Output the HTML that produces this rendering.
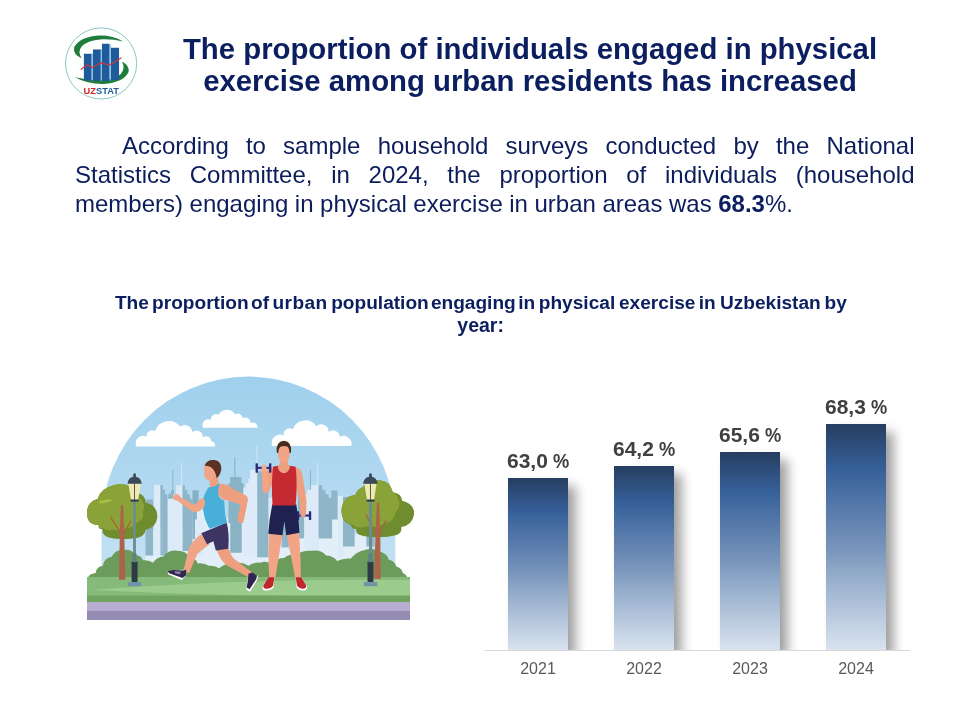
<!DOCTYPE html>
<html>
<head>
<meta charset="utf-8">
<title>Slide</title>
<style>
html,body{margin:0;padding:0;background:#fff;}
body{width:960px;height:720px;position:relative;overflow:hidden;font-family:"Liberation Sans",sans-serif;}
.abs{position:absolute;}
#title,#body,#ctitle,.dl,.xl{will-change:transform;}
#title{left:130px;top:33px;width:800px;text-align:center;font-weight:bold;font-size:29.33px;line-height:32.2px;color:#0b1e5f;white-space:nowrap;}
#body{left:75px;top:131px;width:839.5px;font-size:24px;line-height:29px;color:#0c1d5c;}
#body b{color:#0b1e5f;}
#body .jl{text-align:justify;text-align-last:justify;white-space:nowrap;}
#ctitle{left:0;top:291px;width:960px;height:46px;font-weight:bold;font-size:19.1px;line-height:23px;color:#0b1e5f;white-space:nowrap;}
#ctitle span{position:absolute;top:0;}
.bar{position:absolute;width:60px;box-shadow:7.5px 8px 11px rgba(0,0,0,.39);background:linear-gradient(to bottom,#263e60 0%,#36609a 20%,#7a96bc 56%,#8fa8c8 65%,#d9e3ef 100%);}
.dl{position:absolute;width:120px;text-align:center;font-weight:bold;font-size:21px;line-height:22px;color:#404040;white-space:nowrap;word-spacing:-1px;}
.dl i{font-style:normal;display:inline-block;transform:scaleX(.87);transform-origin:0 50%;margin-right:-2.4px;}
.xl{position:absolute;width:120px;text-align:center;font-size:16px;line-height:18px;color:#595959;top:660px;}
#axis{left:484px;top:650px;width:426px;height:1px;background:#d9d9d9;}
</style>
</head>
<body>
<div id="title" class="abs">The proportion of individuals engaged in physical<br>exercise among urban residents has increased</div>
<div id="body" class="abs"><div class="jl" style="text-indent:47px">According to sample household surveys conducted by the National</div><div class="jl">Statistics Committee, in 2024, the proportion of individuals (household</div><div style="word-spacing:-0.12px;white-space:nowrap">members) engaging in physical exercise in urban areas was <b>68.3</b>%.</div></div>
<div id="ctitle" class="abs"><span style="left:114.9px">The</span><span style="left:152.1px">proportion</span><span style="left:251.1px">of</span><span style="left:272.5px;letter-spacing:0.4px">urban</span><span style="left:331.2px">population</span><span style="left:430.9px">engaging</span><span style="left:518.3px">in</span><span style="left:538.8px">physical</span><span style="left:619.0px">exercise</span><span style="left:698.8px">in</span><span style="left:719.9px">Uzbekistan</span><span style="left:824.5px">by</span><span style="left:457.3px;top:22.6px;font-size:19.5px">year:</span></div>

<!-- chart -->
<div class="abs" style="left:484px;top:380px;width:450px;height:270px;overflow:hidden;">
<div class="bar" style="left:24px;top:98px;height:172px;"></div>
<div class="bar" style="left:130px;top:86px;height:184px;"></div>
<div class="bar" style="left:236px;top:72px;height:198px;"></div>
<div class="bar" style="left:342px;top:44px;height:226px;"></div>
</div>
<div id="axis" class="abs"></div>
<div class="dl" style="left:477.5px;top:449.7px;">63,0 <i>%</i></div>
<div class="dl" style="left:583.5px;top:437.7px;">64,2 <i>%</i></div>
<div class="dl" style="left:689.5px;top:423.7px;">65,6 <i>%</i></div>
<div class="dl" style="left:795.5px;top:395.7px;">68,3 <i>%</i></div>
<div class="xl" style="left:478px;">2021</div>
<div class="xl" style="left:584px;">2022</div>
<div class="xl" style="left:690px;">2023</div>
<div class="xl" style="left:796px;">2024</div>

<svg class="abs" style="left:40px;top:10px;" width="120" height="100" viewBox="0 0 864 720">
<circle cx="440" cy="385" r="256" fill="#fdfefe" stroke="#5aaeaa" stroke-width="5"/>
<path d="M598 226 Q520 180 420 184 Q290 192 246 268 Q236 320 300 348 Q268 300 300 262 Q350 214 450 210 Q530 208 598 226Z" fill="#1f7d3b"/>
<path d="M252 484 Q340 534 460 532 Q600 522 638 446 Q646 400 590 370 Q618 420 580 462 Q530 502 430 504 Q330 502 252 484Z" fill="#1f7d3b"/>
<g fill="#1d5b9c">
<rect x="316" y="315" width="56" height="192"/>
<rect x="381" y="284" width="57" height="226"/>
<rect x="446" y="243" width="55" height="268"/>
<rect x="511" y="272" width="58" height="232"/>
</g>
<g fill="#7db5dd"><rect x="372" y="315" width="8" height="192"/><rect x="438" y="284" width="7" height="226"/><rect x="501" y="250" width="9" height="258"/></g>
<path d="M296 426 L340 394 L376 416 L440 380 L500 396 L562 358 L584 346" fill="none" stroke="#d4343c" stroke-width="9" stroke-linejoin="round" stroke-linecap="round"/>
<text x="314" y="606" font-family="Liberation Sans, sans-serif" font-weight="bold" font-size="62" textLength="254" lengthAdjust="spacingAndGlyphs"><tspan fill="#d3242b">UZ</tspan><tspan fill="#1d5b9c">STAT</tspan></text>
</svg>

<svg class="abs" style="left:60px;top:360px;" width="380" height="280" viewBox="60 360 380 280">
<defs>
<linearGradient id="sky" x1="0" y1="376" x2="0" y2="580" gradientUnits="userSpaceOnUse">
<stop offset="0" stop-color="#9fd0ec"/><stop offset="0.5" stop-color="#b0d8f0"/><stop offset="1" stop-color="#c6e2f4"/>
</linearGradient>
<clipPath id="skyclip"><path d="M100.8 580 L100.8 524.8 A148.2 148.2 0 0 1 397.2 524.8 L397.2 580 Z"/></clipPath>
</defs>
<!-- sky -->
<path d="M101.5 580 L101.5 524.8 A146.9 148.2 0 0 1 395.3 524.8 L395.3 580 Z" fill="url(#sky)"/>
<!-- clouds: scene coords -->
<g fill="#fff">
<g transform="translate(120,400) scale(0.15625)">
<path d="M102 298 L102 290 A48 48 0 0 1 170 235 A36 36 0 0 1 225 200 A92 92 0 0 1 385 170 A48 48 0 0 1 462 205 A42 42 0 0 1 530 240 A34 34 0 0 1 585 265 A24 24 0 0 1 607 298Z"/>
<path d="M530 178 L530 170 A36 36 0 0 1 582 128 A32 32 0 0 1 630 95 A62 62 0 0 1 738 92 A30 30 0 0 1 785 118 A32 32 0 0 1 835 148 A30 30 0 0 1 880 178Z"/>
</g>
<g transform="translate(240,400) scale(0.15625)">
<path d="M205 295 L205 288 A52 52 0 0 1 280 228 A38 38 0 0 1 338 188 A84 84 0 0 1 488 168 A48 48 0 0 1 568 205 A42 42 0 0 1 638 235 A52 52 0 0 1 712 295Z"/>
</g>
</g>
<!-- pale backdrop: scene coords scale 2.526 -->
<g transform="translate(60,360) scale(0.395833)" fill="#e2eff9">
<path d="M215 560 V430 h40 v-40 h50 v30 h40 v-60 h60 v40 h40 v-70 h50 v60 h40 v-40 h60 v50 h40 v-40 h60 v40 h50 v40 h40 v140z"/>
</g>
<!-- skyline left: zoom [130,440,260,570] scale 5.538 -->
<g transform="translate(130,440) scale(0.180556)">
  <g fill="#8fb6c8">
    <rect x="85" y="330" width="43" height="310"/>
    <rect x="168" y="250" width="14" height="390"/><rect x="182" y="275" width="12" height="365"/><rect x="194" y="300" width="12" height="340"/>
    <rect x="234" y="165" width="6" height="130"/>
    <path d="M200 640V320h12v-22h14v-20h18v362z"/>
    <path d="M290 250h14v25h14v25h14v25h14v290h-56z"/>
    <path d="M346 278h34v110h-10v160h-24z" fill="#86b0c4"/>
    <rect x="577" y="95" width="7" height="120"/>
    <path d="M545 240h10v-35h62v35h12v220h-10v165h-64v-165h-10z" fill="#88b3c5"/>
    <rect x="705" y="175" width="40" height="470"/>
  </g>
  <g fill="#dcebf7">
    <rect x="133" y="248" width="34" height="395"/>
    <rect x="283" y="125" width="4" height="130"/>
    <path d="M208 325h32v-25h16v-50h34v395h-82z"/>
    <rect x="360" y="440" width="50" height="205"/>
    <path d="M628 265h14v-25h14v-25h14v-25h14v-25h22v480h-78z"/>
  </g>
</g>
<!-- skyline right: zoom [250,440,400,570] scale 5.54 -->
<g transform="translate(250,440) scale(0.180505)">
  <g fill="#dcebf7">
    <rect x="36" y="35" width="4" height="150"/>
    <rect x="0" y="165" width="42" height="480"/>
    <rect x="373" y="125" width="4" height="130"/>
    <path d="M300 300h16v-25h16v-25h50v395h-82z"/>
    <rect x="485" y="310" width="32" height="335"/>
    <rect x="100" y="320" width="30" height="325"/>
  </g>
  <g fill="#8fb6c8">
    <rect x="40" y="175" width="62" height="475"/>
    <rect x="332" y="165" width="6" height="110"/>
    <rect x="175" y="380" width="40" height="215"/>
    <rect x="265" y="290" width="35" height="255"/>
    <path d="M380 250h20v25h18v25h18v20h14v-40h35v160h-30v105h-75z"/>
    <rect x="515" y="315" width="65" height="275"/>
    <rect x="645" y="400" width="45" height="190"/>
  </g>
</g>

<g transform="translate(60,360) scale(0.395833)" fill="#6b9c5c">
<path d="M70 552 Q72 540 90 538 Q92 522 108 520 Q112 500 130 498 Q140 478 160 480 Q180 476 190 492 Q205 494 210 506 Q225 504 235 512 Q245 498 262 496 Q275 478 298 482 Q318 482 326 498 Q342 500 348 514 Q365 512 376 520 Q392 518 402 526 Q420 512 440 514 Q460 508 476 520 Q490 510 506 512 Q520 506 534 514 Q548 500 566 500 Q580 490 598 492 Q612 480 636 482 Q660 478 672 494 Q690 494 700 508 Q716 500 734 502 Q748 484 770 480 Q790 474 806 484 Q826 488 830 504 Q846 508 850 522 Q864 526 866 538 Q876 542 878 552 Z"/>
</g>

<!-- ground -->
<rect x="87" y="577" width="323" height="26" fill="#86ba7a"/>
<path d="M92 590 Q250 578 410 580 L410 596 Q250 598 92 590Z" fill="#9ccc8d"/>
<rect x="87" y="595.5" width="323" height="7" fill="#6fa35f"/>
<rect x="87" y="602" width="323" height="9" fill="#b8acd1"/>
<rect x="87" y="611" width="323" height="9" fill="#958cb3"/>
<!-- left tree+lamp: zoom [80,465,180,600] scale 5.33 -->
<g transform="translate(80,465) scale(0.187617)">
  <!-- foliage dark -->
  <path d="M120 340 Q95 345 100 320 Q40 320 38 265 Q30 200 95 180 Q110 120 200 102 Q265 95 300 150 Q345 150 350 200 Q415 215 412 280 Q405 335 350 345 Q345 390 280 392 Q200 400 150 385 Q115 375 120 340Z" fill="#6f8c2e"/>
  <!-- foliage light -->
  <path d="M120 335 Q95 340 100 318 Q40 318 38 265 Q30 200 95 180 Q110 120 200 102 Q262 96 290 140 Q300 170 330 185 Q350 215 335 250 Q345 290 305 305 Q290 335 250 335 Q215 360 180 345 Q150 355 120 335Z" fill="#8aa338"/>
  <path d="M100 195 Q140 178 180 188 Q150 200 105 205Z" fill="#a9bf41"/>
  <!-- trunk -->
  <path d="M164 280 L222 368 M268 300 L232 374" stroke="#a0683f" stroke-width="7" stroke-linecap="round" fill="none"/><path d="M218 215 L230 215 L236 372 L242 612 L208 612 L212 372Z" fill="#ad624a"/>
  <!-- lamp -->
  <rect x="283" y="190" width="15" height="330" fill="#6b8d90"/>
  <rect x="275" y="515" width="32" height="108" rx="3" fill="#2f3a47"/>
  <rect x="280" y="470" width="21" height="48" fill="#5f8385"/>
  <rect x="255" y="624" width="72" height="22" fill="#6f94aa"/>
  <path d="M258 100 L325 100 L310 186 L272 186Z" fill="#eeeab2"/>
  <rect x="288" y="100" width="5" height="88" fill="#4a4f4f"/>
  <rect x="270" y="184" width="43" height="11" fill="#2f3a47"/>
  <path d="M253 100 Q256 68 284 62 L284 48 Q291 40 298 48 L298 62 Q326 68 329 100Z" fill="#3b4a58"/>
</g>
<!-- right tree+lamp: zoom [330,465,430,600] scale 5.33 -->
<g transform="translate(330,465) scale(0.187617)">
  <path d="M140 340 Q130 375 200 382 Q290 390 350 375 Q385 365 380 330 Q440 320 448 262 Q450 205 385 190 Q380 150 335 145 Q320 85 270 82 Q210 80 170 120 Q140 135 135 160 Q70 165 62 235 Q55 300 110 320 Q120 345 140 340Z" fill="#6f8c2e"/>
  <path d="M135 160 Q70 165 62 235 Q55 300 120 318 Q150 345 200 325 Q250 340 290 310 Q345 300 350 250 Q385 215 360 170 Q345 145 335 145 Q320 85 270 82 Q210 80 170 120 Q140 135 135 160Z" fill="#8aa338"/>
  <path d="M192 266 L244 366 M300 292 L262 372" stroke="#a0683f" stroke-width="7" stroke-linecap="round" fill="none"/><path d="M262 200 L250 200 L242 372 L236 607 L270 607 L268 372Z" fill="#ad624a"/>
  <rect x="208" y="190" width="16" height="330" fill="#6b8d90"/>
  <rect x="200" y="515" width="32" height="108" rx="3" fill="#2f3a47"/>
  <rect x="205" y="470" width="22" height="48" fill="#5f8385"/>
  <rect x="180" y="624" width="72" height="22" fill="#6f94aa"/>
  <path d="M183 100 L248 100 L235 186 L197 186Z" fill="#eeeab2"/>
  <rect x="213" y="100" width="5" height="88" fill="#4a4f4f"/>
  <rect x="195" y="184" width="43" height="11" fill="#2f3a47"/>
  <path d="M176 100 Q180 68 208 62 L208 48 Q216 40 223 48 L223 62 Q250 68 254 100Z" fill="#3b4a58"/>
</g>

<!-- runner: zoom [160,450,260,600] scale 4.8 -->
<g transform="translate(160,450) scale(0.208333)">
  <!-- back arm (right) -->
  <path d="M268 170 Q316 152 348 186 L414 220 Q426 232 420 250 L404 330 Q400 352 385 350 Q368 344 374 322 L386 262 L318 240 Q280 240 268 170Z" fill="#ee9f80"/>
  <!-- back leg -->
  <path d="M268 470 L326 466 Q338 500 352 520 L446 590 L426 612 L318 552 Q290 530 268 470Z" fill="#ee9f80"/>
  <!-- front leg -->
  <path d="M196 404 L238 452 Q200 480 178 500 L140 590 L112 582 L136 480 Q150 440 196 404Z" fill="#f2a486"/>
  <!-- shoes -->
  <path d="M36 584 L64 578 L126 574 L122 606 L104 624 L40 598Z" fill="#fff"/>
  <path d="M36 582 L64 576 L112 578 L126 572 L124 602 L108 614 L44 592Z" fill="#30264f"/>
  <path d="M70 582 L100 584 L96 596 L72 592Z" fill="#8f86ad"/>
  <path d="M424 596 L444 590 L470 604 L468 622 L432 680 L414 668 L420 630Z" fill="#fff"/>
  <path d="M424 594 L444 588 L466 602 L462 620 L430 668 L416 660 L422 628Z" fill="#30264f"/>
  <!-- shorts -->
  <path d="M198 400 L320 348 Q334 400 328 474 L268 482 L256 438 L226 452Z" fill="#3d3463"/>
  <!-- torso -->
  <path d="M232 180 Q262 176 288 160 Q276 184 280 212 Q286 238 308 242 L313 312 Q320 335 322 350 L238 378 Q216 340 212 312 Q202 270 204 248 Q208 220 232 180Z" fill="#49aed8"/>
  <!-- neck & head -->
  <path d="M238 128 L276 120 L282 160 Q262 180 240 178Z" fill="#ee9f80"/>
  <path d="M212 92 Q210 64 238 62 Q262 62 268 90 L266 120 Q260 142 238 146 Q222 146 218 130 L210 124 L214 112Z" fill="#f2a486"/>
  <path d="M214 76 Q224 44 262 48 Q298 54 294 96 Q288 124 272 134 Q268 110 258 96 Q240 74 214 76Z" fill="#5a3122"/>
  <!-- front arm -->
  <path d="M206 232 Q222 240 214 268 Q204 292 172 298 Q160 300 150 292 L84 244 Q60 242 62 222 Q72 206 90 214 L96 224 L160 262 Q180 258 190 236Z" fill="#f2a486"/>
</g>
<!-- lifter: zoom [240,430,340,600] scale 4.24 -->
<g transform="translate(240,430) scale(0.235849)">
  <!-- legs -->
  <path d="M124 436 L180 442 L150 628 L124 628 Q118 540 124 436Z" fill="#f2a486"/>
  <path d="M198 442 L250 434 Q258 540 258 628 L234 628 Z" fill="#f2a486"/>
  <!-- shoes -->
  <path d="M118 626 L146 626 L142 668 Q130 684 104 680 Q92 676 96 664Z" fill="#fff"/>
  <path d="M120 624 L146 624 L140 660 Q128 676 106 672 Q96 668 100 658Z" fill="#bf272e"/>
  <path d="M236 626 L262 626 L284 664 Q286 678 274 680 Q252 684 240 668Z" fill="#fff"/>
  <path d="M236 624 L260 624 L280 658 Q282 670 272 672 Q254 676 242 660Z" fill="#bf272e"/>
  <!-- dumbbell low -->
  <g fill="#2e2a7a"><rect x="241" y="344" width="10" height="38" rx="2"/><rect x="292" y="344" width="10" height="38" rx="2"/><rect x="248" y="358" width="48" height="9"/></g>
  <!-- right arm (image right) -->
  <path d="M236 158 Q262 160 266 200 L282 300 L280 352 Q278 372 264 370 Q254 366 256 350 L252 300 L236 240Z" fill="#ee9f80"/>
  <!-- left arm raised -->
  <path d="M142 158 Q118 158 106 190 Q92 230 96 256 Q104 272 122 264 L150 200Z" fill="#ee9f80"/>
  <path d="M96 256 L91 170 Q94 150 104 150 Q114 152 114 172 L126 258 Q112 272 96 256Z" fill="#f2a486"/>
  <!-- dumbbell top -->
  <g fill="#2e2a7a"><rect x="66" y="141" width="10" height="40" rx="2"/><rect x="123" y="141" width="10" height="40" rx="2"/><rect x="74" y="156" width="54" height="9"/></g>
  <path d="M91 172 Q90 146 102 145 Q114 146 113 172 Z" fill="#f4ab8c"/>
  <!-- shorts -->
  <path d="M138 314 L238 314 Q250 380 252 436 L196 446 L188 386 L180 446 L120 440 Q124 370 138 314Z" fill="#1f2150"/>
  <!-- tank -->
  <path d="M140 156 L160 152 Q164 180 186 182 Q208 180 212 152 L236 156 Q244 230 236 320 L138 320 Q132 230 140 156Z" fill="#c52a32"/>
  <!-- neck & head -->
  <path d="M170 128 L202 128 L204 146 L212 152 Q208 181 186 183 Q164 181 160 152 L168 146Z" fill="#ee9f80"/>
  <path d="M160 84 Q160 62 186 60 Q212 62 212 84 L210 112 Q204 138 186 140 Q168 138 162 112Z" fill="#f2a486"/>
  <path d="M156 96 Q150 50 186 46 Q222 50 216 96 L210 98 Q210 78 200 70 Q186 64 170 72 Q162 80 162 98Z" fill="#4a2a1c"/>
</g>

</svg>

</body>
</html>
